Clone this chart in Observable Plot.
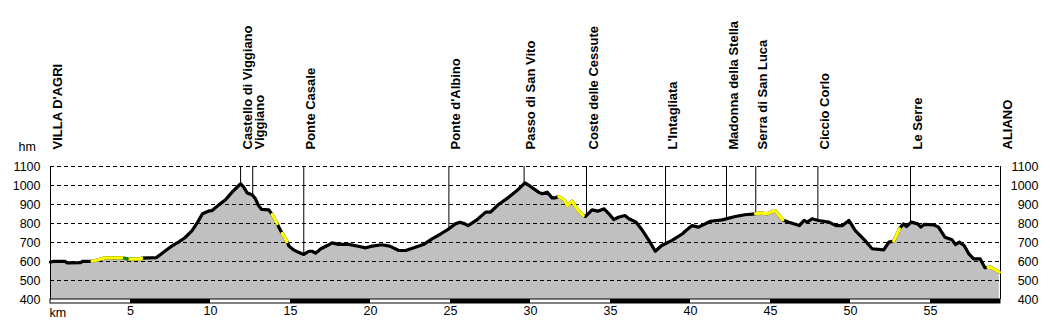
<!DOCTYPE html>
<html>
<head>
<meta charset="utf-8">
<script src="https://cdn.jsdelivr.net/npm/d3@7"></script>
<script src="https://cdn.jsdelivr.net/npm/@observablehq/plot@0.6"></script>
<style>
  html, body { margin: 0; padding: 0; background: #fff; }
  #chart svg { display: block; }
</style>
</head>
<body>
<div id="chart"></div>
<script>
// ---- Data ----
const profileKm = [0, 0.2, 0.9, 1.05, 1.9, 2.0, 2.6, 3.0, 3.4, 4.5, 4.9, 5.6, 5.7, 6.6, 6.8, 7.2, 7.6, 8.0, 8.4, 8.85,
  9.2, 9.5, 9.9, 10.1, 10.52, 10.94, 11.35, 11.77, 11.88, 12.08, 12.29, 12.6, 12.81, 13.0, 13.2, 13.65, 13.85, 14.17, 14.27, 14.48,
  14.79, 14.9, 15.2, 15.5, 15.83, 16.15, 16.35, 16.56, 16.9, 17.3, 17.6, 18.0, 18.65, 19.3, 19.7, 20.1, 20.7, 21.2, 21.77, 22.2,
  22.8, 23.3, 23.85, 24.4, 24.9, 25.3, 25.6, 25.9, 26.1, 26.6, 27.2, 27.5, 28.0, 28.65, 29.27, 29.65, 30.0, 30.5, 30.73, 31.04,
  31.35, 31.56, 31.77, 32.1, 32.3, 32.6, 32.9, 33.3, 33.44, 33.85, 34.2, 34.6, 34.9, 35.2, 35.5, 35.9, 36.15, 36.6, 37.0, 37.4,
  37.8, 38.2, 38.85, 39.5, 39.7, 40.1, 40.5, 41.25, 41.98, 42.8, 43.4, 44.06, 44.4, 44.8, 45.27, 45.77, 46.15, 46.8, 47.1, 47.3,
  47.6, 48.0, 48.65, 49.1, 49.5, 49.9, 50.3, 50.9, 51.35, 52.08, 52.4, 52.7, 53.06, 53.3, 53.5, 53.8, 54.2, 54.4, 54.6, 55.2,
  55.5, 55.9, 56.35, 56.56, 56.8, 57.1, 57.4, 57.7, 58.1, 58.4, 58.75, 59.3];
const profileElev = [597, 601, 601, 593, 594, 601, 601, 609, 619, 619, 612, 612, 618, 620, 632, 658, 682, 702, 725, 763,
  807, 851, 866, 868, 898, 925, 965, 1000, 1009, 991, 961, 951, 930, 895, 874, 872, 847, 800, 780, 748,
  705, 681, 661, 649, 637, 654, 654, 644, 667, 684, 698, 690, 690, 679, 672, 681, 688, 681, 658, 658,
  675, 689, 719, 746, 772, 798, 807, 798, 789, 816, 860, 860, 900, 939, 982, 1014, 995, 965, 956, 965,
  935, 935, 942, 925, 895, 918, 877, 842, 837, 872, 865, 877, 851, 821, 833, 842, 825, 807, 763, 711,
  654, 684, 711, 746, 762, 789, 781, 812, 819, 837, 846, 851, 856, 851, 868, 819, 807, 789, 816, 807,
  825, 816, 807, 789, 789, 816, 763, 711, 667, 661, 702, 707, 772, 798, 784, 807, 798, 781, 795, 793,
  781, 728, 714, 689, 702, 684, 640, 614, 614, 567, 570, 544];

const yellowStart = [2.6, 13.85, 14.48, 31.77, 44.06, 52.7, 58.6];
const yellowEnd   = [5.7, 14.17, 14.79, 33.3, 45.77, 53.06, 59.3];
const greenStart = [4.62];
const greenEnd   = [4.8];

const placeNames = ["VILLA D'AGRI", "Castello di Viggiano", "Viggiano", "Ponte Casale", "Ponte d'Albino",
  "Passo di San Vito", "Coste delle Cessute", "L'Intagliata", "Madonna della Stella", "Serra di San Luca",
  "Ciccio Corlo", "Le Serre", "ALIANO"];
const placeKm = [0, 11.88, 12.64, 15.83, 24.9, 29.6, 33.5, 38.44, 42.25, 44.08, 47.96, 53.75, 59.375];

const yTicks = [400, 500, 600, 700, 800, 900, 1000, 1100];
const xTicks = [5, 10, 15, 20, 25, 30, 35, 40, 45, 50, 55];
const kmMax = 59.375;

// ---- Derived tables ----
const profile = profileKm.map((k, i) => ({km: k, elev: profileElev[i]}));
function interp(k) {
  if (k <= profile[0].km) return profile[0].elev;
  for (let i = 1; i < profile.length; i++) {
    if (profile[i].km >= k) {
      const a = profile[i - 1], b = profile[i];
      return a.elev + (b.elev - a.elev) * (k - a.km) / (b.km - a.km);
    }
  }
  return profile[profile.length - 1].elev;
}
function buildSegs(starts, ends) {
  const out = [];
  starts.forEach((s, j) => {
    const e = ends[j];
    out.push({km: s, elev: interp(s), seg: j});
    profile.filter(d => d.km > s && d.km < e).forEach(d => out.push({...d, seg: j}));
    out.push({km: e, elev: interp(e), seg: j});
  });
  return out;
}
const yellowSegs = buildSegs(yellowStart, yellowEnd);
const greenSegs = buildSegs(greenStart, greenEnd);
const places = placeNames.map((n, i) => ({name: n, km: placeKm[i]}));
const barEdges = [0, ...xTicks, kmMax];
const barBlocks = barEdges.slice(0, -1).map((s, i) => ({x1: s, x2: barEdges[i + 1], dark: i % 2 === 1}));
const fmt = d => String(d);

const chart = Plot.plot({
  width: 1050,
  height: 335,
  marginLeft: 50,
  marginRight: 50,
  marginTop: 166,
  marginBottom: 36,
  x: {domain: [0, kmMax], label: null},
  y: {domain: [400, 1100], label: null},
  style: {fontFamily: "'Liberation Sans', Arial, sans-serif", fontSize: "12.5px", color: "#000", background: "#fff"},
  marks: [
    Plot.areaY(profile, {x: "km", y1: 400, y2: "elev", fill: "#c0c0c0"}),
    Plot.ruleY(yTicks.slice(1), {stroke: "#000", strokeWidth: 1, strokeDasharray: "4,3"}),
    Plot.ruleX(places.filter(d => d.km > 0 && d.km < kmMax), {x: "km", y1: d => interp(d.km), y2: 1100, stroke: "#000", strokeWidth: 1}),
    Plot.ruleX([0, kmMax], {y1: 400, y2: 1100, stroke: "#000", strokeWidth: 1}),
    Plot.line(profile, {x: "km", y: "elev", stroke: "#000", strokeWidth: 3.2, strokeLinejoin: "round"}),
    Plot.line(yellowSegs, {x: "km", y: "elev", z: "seg", stroke: "#ffff00", strokeWidth: 3.2, strokeLinejoin: "round"}),
    Plot.line(greenSegs, {x: "km", y: "elev", z: "seg", stroke: "#008000", strokeWidth: 3.2}),
    Plot.rect([{x1: 0, x2: kmMax}], {x1: "x1", x2: "x2", y1: 400, y2: 379, fill: "#fff", stroke: "#000", strokeWidth: 1}),
    Plot.rect(barBlocks.filter(d => d.dark), {x1: "x1", x2: "x2", y1: 400, y2: 379, fill: "#000"}),
    Plot.axisY(yTicks, {anchor: "left", tickSize: 0, tickPadding: 10, fontSize: 12.5, tickFormat: fmt, label: null}),
    Plot.axisY(yTicks, {anchor: "right", tickSize: 0, tickPadding: 38, textAnchor: "end", fontSize: 12.5, tickFormat: fmt, label: null}),
    Plot.axisX(xTicks, {anchor: "bottom", tickSize: 0, tickPadding: 7, fontSize: 12.5, tickFormat: fmt, label: null}),
    Plot.text(places, {x: "km", y: 1100, text: "name", rotate: -90, textAnchor: "start", dx: 7, dy: -17,
      fontWeight: "bold", fontSize: 13, fill: "#000"}),
    Plot.text(["hm"], {x: 0, y: 1100, text: d => d, dx: -32, dy: -20, textAnchor: "start", fontSize: 12.5}),
    Plot.text(["km"], {x: 0, y: 400, text: d => d, dx: -1, dy: 13, textAnchor: "start", fontSize: 12.5})
  ]
});
document.getElementById("chart").appendChild(chart);
</script>
</body>
</html>
